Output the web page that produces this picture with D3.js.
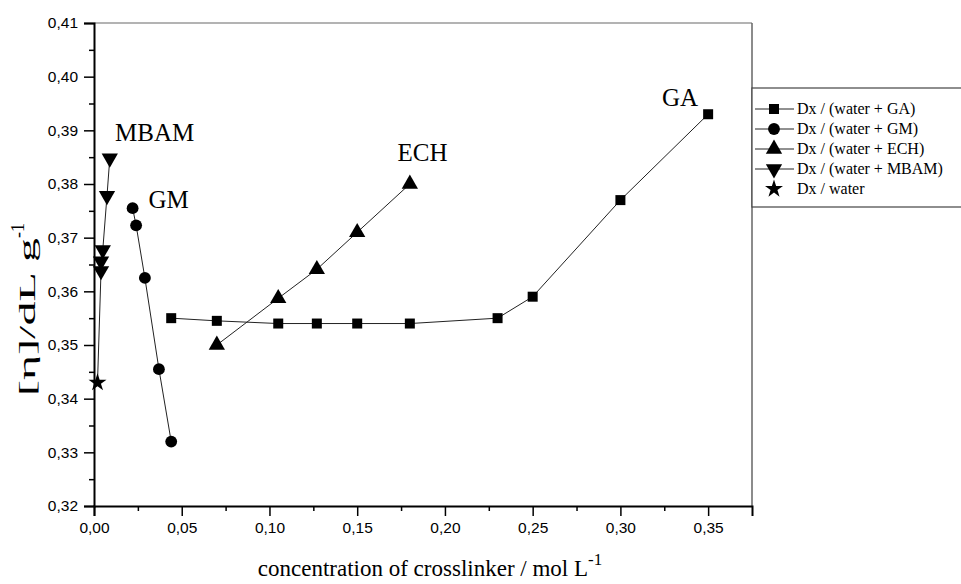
<!DOCTYPE html>
<html>
<head>
<meta charset="utf-8">
<script src="https://cdn.jsdelivr.net/npm/d3@7"></script>
<style>
  html, body { margin: 0; padding: 0; background: #fff; }
  svg { display: block; }
</style>
</head>
<body>
<svg id="chart" width="961" height="584"></svg>
<script>
// ---- data ----
const gaX = [0.044, 0.07, 0.105, 0.127, 0.15, 0.18, 0.23, 0.25, 0.30, 0.35];
const gaY = [0.355, 0.3545, 0.354, 0.354, 0.354, 0.354, 0.355, 0.359, 0.377, 0.393];
const gmX = [0.022, 0.024, 0.029, 0.037, 0.044];
const gmY = [0.3755, 0.3723, 0.3625, 0.3455, 0.332];
const echX = [0.07, 0.105, 0.127, 0.15, 0.18];
const echY = [0.350, 0.3587, 0.3641, 0.371, 0.380];
const mbamX = [0.004, 0.004, 0.005, 0.0074, 0.009];
const mbamY = [0.3638, 0.3656, 0.3677, 0.3778, 0.3848];
const waterX = [0.002];
const waterY = [0.343];
const xTickValues = [0, 0.05, 0.10, 0.15, 0.20, 0.25, 0.30, 0.35];
const yTickValues = [0.32, 0.33, 0.34, 0.35, 0.36, 0.37, 0.38, 0.39, 0.40, 0.41];
const seriesNames = ["Dx / (water + GA)", "Dx / (water + GM)", "Dx / (water + ECH)", "Dx / (water + MBAM)", "Dx / water"];
const curveLabels = ["GA", "GM", "ECH", "MBAM"];

// ---- layout ----
const svg = d3.select("#chart");
const L = 94, R = 752, T = 23, B = 506;
const x = d3.scaleLinear().domain([0, 0.375]).range([L, R]);
const y = d3.scaleLinear().domain([0.32, 0.41]).range([B, T]);
const fmt = v => d3.format(".2f")(v).replace(".", ",");
const serif = "'Liberation Serif','Times New Roman',serif";
const sans = "'Liberation Sans',Arial,sans-serif";

// frame top/right (grey)
svg.append("line").attr("x1", L).attr("x2", R).attr("y1", T).attr("y2", T)
  .attr("stroke", "#9a9a9a").attr("stroke-width", 1.5);
svg.append("line").attr("x1", R).attr("x2", R).attr("y1", T).attr("y2", B)
  .attr("stroke", "#666").attr("stroke-width", 1.5);

// axes
const yMinor = d3.range(0.325, 0.41, 0.01);
const xMinor = d3.range(0.025, 0.375, 0.05);
const gy = svg.append("g").attr("transform", `translate(${L},0)`);
gy.call(d3.axisLeft(y).tickValues(yTickValues).tickFormat(fmt).tickSizeOuter(0).tickSize(10).tickPadding(6));
gy.append("g").call(d3.axisLeft(y).tickValues(yMinor).tickFormat("").tickSizeOuter(0).tickSize(5))
  .select(".domain").remove();
const gx = svg.append("g").attr("transform", `translate(0,${B})`);
gx.call(d3.axisBottom(x).tickValues(xTickValues).tickFormat(fmt).tickSizeOuter(0).tickSize(10).tickPadding(6));
gx.append("g").call(d3.axisBottom(x).tickValues(xMinor).tickFormat("").tickSizeOuter(0).tickSize(5))
  .select(".domain").remove();
[gx, gy].forEach(g => {
  g.selectAll(".domain").attr("stroke", "#000").attr("stroke-width", 2);
  g.selectAll(".tick line").attr("stroke", "#000").attr("stroke-width", 1.5);
  g.selectAll(".tick text").attr("font-family", sans).attr("font-size", 15.5).attr("fill", "#000");
});

// axis titles
const xt = svg.append("text").attr("x", 430).attr("y", 576).attr("text-anchor", "middle")
  .attr("font-family", serif).attr("font-size", 23).attr("fill", "#000");
xt.append("tspan").text("concentration of crosslinker / mol L");
xt.append("tspan").attr("dy", -11).attr("font-size", 17).text("-1");

const yt = svg.append("text").attr("transform", `translate(35,396) rotate(-90)`)
  .attr("font-family", serif).attr("font-size", 24).attr("fill", "#000");
yt.append("tspan").attr("textLength", 158).attr("lengthAdjust", "spacingAndGlyphs").text("[η]/dL g");
yt.append("tspan").attr("dy", -11).attr("font-size", 18).text("-1");

// series
const zip = (xs, ys) => xs.map((v, i) => [v, ys[i]]);
const ga = zip(gaX, gaY), gm = zip(gmX, gmY), ech = zip(echX, echY),
      mbam = zip(mbamX, mbamY), water = zip(waterX, waterY);
const line = d3.line().x(d => x(d[0])).y(d => y(d[1]));
const lineStyle = p => p.attr("fill", "none").attr("stroke", "#222").attr("stroke-width", 1);

svg.append("path").datum(ga).attr("d", line).call(lineStyle);
svg.append("path").datum(gm).attr("d", line).call(lineStyle);
svg.append("path").datum(ech).attr("d", line).call(lineStyle);
svg.append("path").datum(water.concat(mbam)).attr("d", line).call(lineStyle);

const sym = {
  square: d3.symbol().type(d3.symbolSquare).size(100),
  circle: d3.symbol().type(d3.symbolCircle).size(110),
  tri: d3.symbol().type(d3.symbolTriangle).size(115),
  star: d3.symbol().type(d3.symbolStar).size(100)
};
function marks(data, gen, rot) {
  svg.append("g").selectAll("path").data(data).join("path")
    .attr("d", gen)
    .attr("transform", d => `translate(${x(d[0])},${y(d[1])})` + (rot ? ` rotate(${rot})` : ""))
    .attr("fill", "#000");
}
marks(ga, sym.square);
marks(gm, sym.circle);
marks(ech, sym.tri);
marks(mbam, sym.tri, 180);
marks(water, sym.star);

// curve labels
const labelPos = [[0.3237, 0.3945], [0.031, 0.3755], [0.173, 0.3843], [0.012, 0.388]];
curveLabels.forEach((t, i) => {
  svg.append("text").attr("x", x(labelPos[i][0])).attr("y", y(labelPos[i][1]))
    .attr("font-family", serif).attr("font-size", 25).attr("fill", "#000").text(t);
});

// legend
const lg = svg.append("g");
lg.append("rect").attr("x", 752).attr("y", 88).attr("width", 230).attr("height", 119)
  .attr("fill", "#fff").attr("stroke", "#444").attr("stroke-width", 1.2);
const legendSyms = [[sym.square, 0], [sym.circle, 0], [sym.tri, 0], [sym.tri, 180], [sym.star, 0]];
seriesNames.forEach((name, i) => {
  const cy = 109 + i * 20;
  if (i < 4) {
    lg.append("line").attr("x1", 755).attr("x2", 794).attr("y1", cy).attr("y2", cy)
      .attr("stroke", "#222").attr("stroke-width", 1);
  }
  lg.append("path").attr("d", legendSyms[i][0])
    .attr("transform", `translate(774,${cy})` + (legendSyms[i][1] ? ` rotate(${legendSyms[i][1]})` : ""))
    .attr("fill", "#000");
  lg.append("text").attr("x", 797).attr("y", cy + 5).attr("font-family", serif)
    .attr("font-size", 16).attr("fill", "#000").text(name);
});
</script>
</body>
</html>
